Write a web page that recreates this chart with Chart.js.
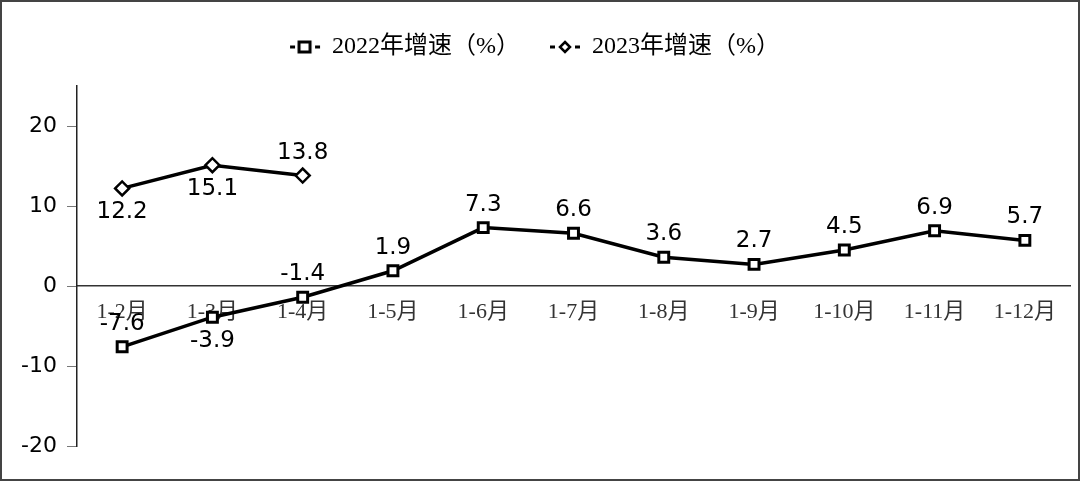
<!DOCTYPE html>
<html>
<head>
<meta charset="utf-8">
<script src="https://cdn.jsdelivr.net/npm/chart.js@4.4.0/dist/chart.umd.min.js"></script>
<style>
  html, body { margin: 0; padding: 0; background: #fff; }
  #wrap { width: 1080px; height: 481px; position: relative; }
</style>
</head>
<body>
<div id="wrap"><canvas id="grafico"></canvas></div>
<script>
// datos
var meses = ["1-2月", "1-3月", "1-4月", "1-5月", "1-6月", "1-7月", "1-8月", "1-9月", "1-10月", "1-11月", "1-12月"];
var valores2022 = [-7.6, -3.9, -1.4, 1.9, 7.3, 6.6, 3.6, 2.7, 4.5, 6.9, 5.7];
var valores2023 = [12.2, 15.1, 13.8];
var ticksY = [-20, -10, 0, 10, 20];

// donde va cada etiqueta (arriba / abajo del punto)
var lado2022 = ["up", "down", "up", "up", "up", "up", "up", "up", "up", "up", "up"];
var lado2023 = ["down", "down", "up"];

/*
* Icono de leyenda: linea corta con el marcador en medio
*/
function iconoLeyenda(tipo) {
  var c = document.createElement("canvas");
  c.width = 32; c.height = 16;
  var g = c.getContext("2d");
  g.strokeStyle = "#000";
  g.lineWidth = 3;
  g.beginPath(); g.moveTo(1, 8); g.lineTo(6, 8); g.stroke();
  g.beginPath(); g.moveTo(26, 8); g.lineTo(31, 8); g.stroke();
  g.fillStyle = "#fff";
  g.lineWidth = 3;
  if (tipo == "rect") {
    g.fillRect(10, 3, 11, 10);
    g.strokeRect(10, 3, 11, 10);
  } else {
    g.lineWidth = 2.5;
    g.beginPath();
    g.moveTo(16, 3); g.lineTo(21, 8); g.lineTo(16, 13); g.lineTo(11, 8); g.closePath();
    g.fill(); g.stroke();
  }
  return c;
}

// etiquetas de valor sobre los puntos
var etiquetas = {
  id: "etiquetas",
  afterDatasetsDraw: function(chart) {
    var ctx = chart.ctx;
    ctx.save();
    ctx.font = "23px 'DejaVu Sans'";
    ctx.fillStyle = "#000";
    ctx.textAlign = "center";
    ctx.textBaseline = "middle";
    chart.data.datasets.forEach(function(ds, i) {
      var meta = chart.getDatasetMeta(i);
      meta.data.forEach(function(p, j) {
        var dy = ds.lados[j] == "up" ? -23 : 24;
        ctx.fillText(ds.data[j].toFixed(1), p.x, p.y + dy);
      });
    });
    ctx.restore();
  }
};

// espacio extra debajo de la leyenda
var espacioLeyenda = {
  id: "espacioLeyenda",
  beforeInit: function(chart) {
    var fitOriginal = chart.legend.fit;
    chart.legend.fit = function() {
      fitOriginal.bind(chart.legend)();
      this.height += 17;
    };
  }
};

// marco gris alrededor de la imagen
var marco = {
  id: "marco",
  afterDraw: function(chart) {
    var ctx = chart.ctx;
    ctx.save();
    ctx.strokeStyle = "#444";
    ctx.lineWidth = 2;
    ctx.strokeRect(1, 1, chart.width - 2, chart.height - 2);
    ctx.restore();
  }
};

new Chart(document.getElementById("grafico"), {
  type: "line",
  data: {
    labels: meses,
    datasets: [{
      label: "2022年增速（%）",
      data: valores2022,
      lados: lado2022,
      borderColor: "#000",
      borderWidth: 3.5,
      pointStyle: "rect",
      pointRadius: 7,
      pointBorderWidth: 3,
      pointBackgroundColor: "#fff",
      pointBorderColor: "#000",
      tension: 0
    },
    {
      label: "2023年增速（%）",
      data: valores2023,
      lados: lado2023,
      borderColor: "#000",
      borderWidth: 3.5,
      pointStyle: "rectRot",
      pointRadius: 7,
      pointBorderWidth: 2.5,
      pointBackgroundColor: "#fff",
      pointBorderColor: "#000",
      tension: 0
    }]
  },
  options: {
    responsive: true,
    maintainAspectRatio: false,
    animation: false,
    layout: { padding: { left: 0, right: 10, top: 5, bottom: 35 } },
    plugins: {
      tooltip: { enabled: false },
      legend: {
        position: "top",
        labels: {
          usePointStyle: true,
          pointStyleWidth: 30,
          padding: 30,
          color: "#000",
          font: { family: "'Liberation Serif', 'Noto Sans CJK SC'", size: 24 },
          generateLabels: function(chart) {
            return chart.data.datasets.map(function(ds, i) {
              return {
                text: ds.label,
                datasetIndex: i,
                pointStyle: iconoLeyenda(i == 0 ? "rect" : "diamond"),
                fillStyle: "#fff",
                strokeStyle: "#000",
                lineWidth: 0,
                fontColor: "#000"
              };
            });
          }
        }
      }
    },
    scales: {
      x: {
        position: { y: 0 },
        offset: true,
        grid: { display: false, drawTicks: false },
        border: { display: true, color: "#333", width: 1.5 },
        ticks: {
          padding: 13,
          color: "#333",
          maxRotation: 0,
          autoSkip: false,
          font: { family: "'Liberation Serif', 'Noto Sans CJK SC'", size: 22 }
        }
      },
      y: {
        min: -20,
        max: 25,
        afterBuildTicks: function(scale) {
          scale.ticks = ticksY.map(function(v) { return { value: v }; });
        },
        afterFit: function(scale) { scale.width = 77; },
        grid: { drawOnChartArea: false, drawTicks: true, tickLength: 10, color: "#777" },
        border: { display: true, color: "#222", width: 1.5 },
        ticks: {
          padding: 10,
          color: "#000",
          font: { family: "'DejaVu Sans'", size: 22 }
        }
      }
    }
  },
  plugins: [etiquetas, espacioLeyenda, marco]
});
</script>
</body>
</html>
